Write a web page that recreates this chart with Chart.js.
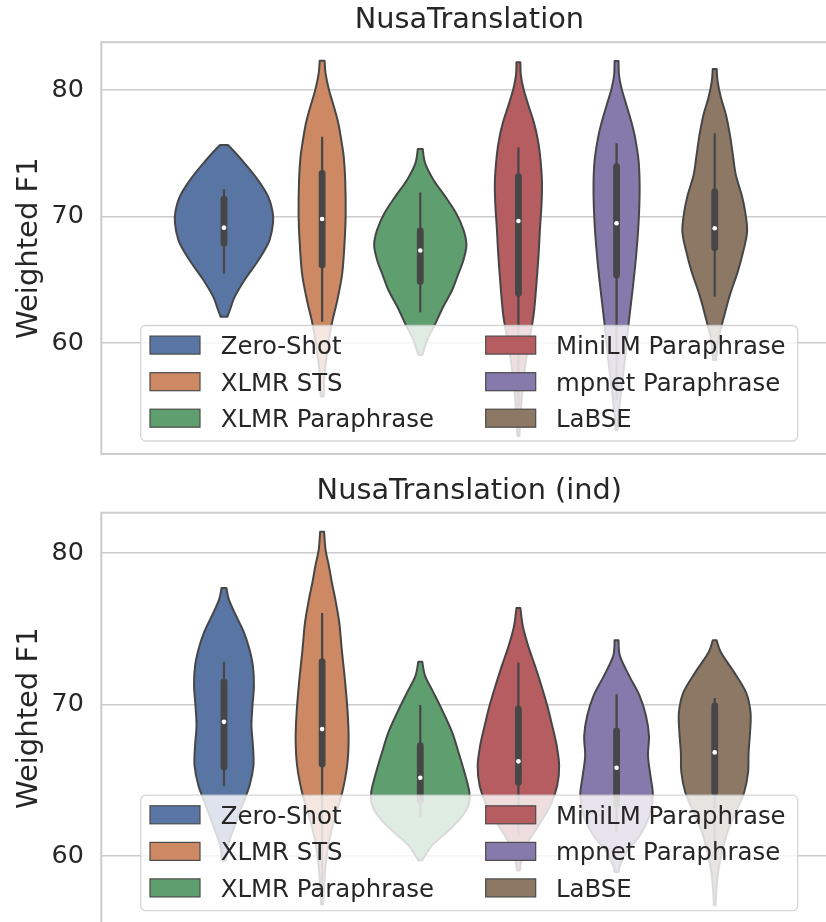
<!DOCTYPE html>
<html>
<head>
<meta charset="utf-8">
<script src="https://cdn.jsdelivr.net/npm/chart.js@4.4.1/dist/chart.umd.min.js"></script>
<style>
html, body { margin: 0; padding: 0; background: #ffffff; overflow: hidden; }
#wrap { position: relative; width: 826px; height: 922px; overflow: hidden; background: #fff; }
canvas { position: absolute; left: 0; }
</style>
</head>
<body>
<div id="wrap">
  <canvas id="c1" width="840" height="470" style="top:0px;width:840px;height:470px"></canvas>
  <canvas id="c2" width="840" height="456" style="top:470px;width:840px;height:456px"></canvas>
</div>
<script>
// ---------------- DATA ----------------
const models = ['Zero-Shot', 'XLMR STS', 'XLMR Paraphrase', 'MiniLM Paraphrase', 'mpnet Paraphrase', 'LaBSE'];
const yTicks = [60, 70, 80];
const yLabel = 'Weighted F1';
const titleTop = 'NusaTranslation';
const titleBottom = 'NusaTranslation (ind)';

// Panel 1: NusaTranslation — violin outline (value, relative density)
const nusaProfileY = [
  [75.66, 75.26, 74.21, 72.9, 71.58, 70.4, 69.5, 68.16, 67.1, 66.32, 65.0, 63.68, 62.63, 62.1],
  [82.31, 81.31, 80.0, 78.68, 77.37, 76.05, 74.74, 72.9, 70.27, 68.16, 65.53, 63.42, 61.6, 59.75, 57.63, 55.8],
  [75.34, 74.21, 72.9, 71.58, 70.27, 68.95, 67.76, 66.58, 65.53, 64.21, 62.9, 61.58, 60.26, 59.08],
  [82.18, 81.18, 80.13, 78.82, 77.5, 76.18, 74.87, 72.76, 70.92, 69.08, 66.97, 64.34, 62.24, 60.66, 59.08, 56.97, 54.87, 52.68],
  [82.29, 81.18, 80.13, 78.82, 77.5, 76.18, 74.34, 72.24, 69.61, 66.97, 64.34, 61.71, 59.08, 56.45, 54.34, 53.16],
  [81.66, 80.66, 79.34, 78.03, 76.45, 74.87, 73.29, 71.71, 70.4, 68.82, 67.24, 65.66, 63.82, 61.97, 60.39, 58.68]
];
const nusaProfileW = [
  [0.08, 0.18, 0.42, 0.69, 0.9, 0.99, 1.0, 0.93, 0.79, 0.66, 0.42, 0.22, 0.12, 0.07],
  [0.05, 0.07, 0.14, 0.24, 0.33, 0.39, 0.44, 0.47, 0.48, 0.46, 0.41, 0.31, 0.2, 0.12, 0.05, 0.03],
  [0.05, 0.1, 0.27, 0.51, 0.73, 0.88, 0.94, 0.88, 0.78, 0.65, 0.47, 0.31, 0.14, 0.04],
  [0.04, 0.05, 0.1, 0.2, 0.31, 0.39, 0.44, 0.48, 0.47, 0.44, 0.41, 0.36, 0.31, 0.24, 0.17, 0.1, 0.05, 0.02],
  [0.04, 0.05, 0.1, 0.2, 0.3, 0.38, 0.45, 0.47, 0.45, 0.4, 0.33, 0.25, 0.18, 0.1, 0.04, 0.02],
  [0.04, 0.06, 0.13, 0.23, 0.31, 0.37, 0.43, 0.55, 0.62, 0.66, 0.58, 0.47, 0.31, 0.18, 0.08, 0.03]
];
const nusaWhiskerLo = [65.5, 61.7, 62.45, 55.0, 55.5, 63.68];
const nusaQ1        = [67.9, 66.18, 64.87, 63.95, 65.4, 67.55];
const nusaMedian    = [69.13, 69.81, 67.32, 69.66, 69.48, 69.08];
const nusaQ3        = [71.37, 73.42, 68.87, 73.16, 73.95, 71.97];
const nusaWhiskerHi = [72.16, 76.31, 71.9, 75.45, 75.79, 76.58];

// Panel 2: NusaTranslation (ind)
const indProfileY = [
  [77.7, 76.93, 75.83, 74.74, 73.64, 72.54, 71.22, 69.91, 68.59, 67.28, 65.96, 64.64, 63.33, 62.01, 60.7, 59.71],
  [81.42, 80.22, 79.12, 78.03, 76.93, 75.39, 73.64, 71.45, 69.47, 67.72, 65.96, 64.21, 62.67, 61.13, 59.38, 56.8],
  [72.83, 71.88, 70.79, 69.47, 68.16, 66.84, 65.53, 64.21, 63.33, 62.45, 61.58, 60.7, 60.04, 59.71],
  [76.38, 75.17, 73.86, 72.54, 71.22, 69.91, 68.59, 67.28, 65.96, 64.64, 63.33, 62.01, 60.92, 59.82, 59.05],
  [74.25, 73.2, 71.88, 70.57, 69.25, 67.94, 66.62, 65.3, 63.99, 62.67, 61.36, 60.26, 59.38, 58.95],
  [74.25, 73.42, 72.11, 70.79, 69.47, 68.16, 66.84, 65.53, 64.21, 62.89, 61.58, 60.26, 58.95, 57.63, 56.75]
];
const indProfileW = [
  [0.05, 0.1, 0.25, 0.41, 0.52, 0.59, 0.61, 0.58, 0.56, 0.59, 0.6, 0.52, 0.37, 0.22, 0.08, 0.04],
  [0.04, 0.07, 0.14, 0.2, 0.27, 0.35, 0.4, 0.47, 0.52, 0.54, 0.51, 0.41, 0.27, 0.15, 0.07, 0.02],
  [0.04, 0.1, 0.27, 0.47, 0.65, 0.78, 0.9, 1.0, 0.98, 0.81, 0.54, 0.24, 0.1, 0.04],
  [0.04, 0.09, 0.2, 0.34, 0.47, 0.59, 0.69, 0.78, 0.83, 0.79, 0.65, 0.41, 0.2, 0.07, 0.03],
  [0.04, 0.07, 0.26, 0.47, 0.6, 0.66, 0.64, 0.69, 0.74, 0.67, 0.47, 0.2, 0.07, 0.04],
  [0.04, 0.13, 0.4, 0.64, 0.73, 0.72, 0.69, 0.68, 0.6, 0.43, 0.26, 0.15, 0.07, 0.03, 0.02]
];
const indWhiskerLo = [64.6, 57.5, 62.57, 61.36, 61.58, 60.48];
const indQ1        = [65.86, 66.07, 63.66, 64.87, 63.44, 64.21];
const indMedian    = [68.86, 68.38, 65.17, 66.25, 65.83, 66.84];
const indQ3        = [71.49, 72.83, 67.28, 69.69, 68.26, 69.91];
const indWhiskerHi = [72.83, 76.05, 69.97, 72.76, 70.68, 70.41];

// ---------------- STYLE ----------------
const fillColors = ['#5975a4', '#cc8963', '#5f9e6e', '#b55d60', '#857aab', '#8d7866'];
const gray = '#464646';
const textColor = '#262626';
const gridColor = '#cccccc';
const FONT = "'DejaVu Sans', 'Liberation Sans', sans-serif";

const nGroups = models.length;
const groupWidth = 0.8;
const slot = groupWidth / nGroups;
const halfSlot = slot / 2;
function slotCenter(i) { return -groupWidth / 2 + (i + 0.5) * slot; }

function spline(ctx, pts) {
  for (let k = 0; k < pts.length - 1; k++) {
    const p0 = pts[k - 1] || pts[k], p1 = pts[k], p2 = pts[k + 1], p3 = pts[k + 2] || pts[k + 1];
    const c1x = p1[0] + (p2[0] - p0[0]) / 6, c1y = p1[1] + (p2[1] - p0[1]) / 6;
    const c2x = p2[0] - (p3[0] - p1[0]) / 6, c2y = p2[1] - (p3[1] - p1[1]) / 6;
    ctx.bezierCurveTo(c1x, c1y, c2x, c2y, p2[0], p2[1]);
  }
}

function violinPlugin(p) {
  return {
    id: 'violins',
    beforeDatasetsDraw(chart) {
      const { ctx, scales: { x, y }, chartArea: ca } = chart;
      ctx.save();
      ctx.beginPath();
      ctx.rect(ca.left, ca.top, ca.right - ca.left, ca.bottom - ca.top);
      ctx.clip();
      models.forEach((m, i) => {
        const c = slotCenter(i);
        const px = x.getPixelForValue(c);
        const ys = p.profY[i], ws = p.profW[i];
        const right = ys.map((v, k) => [x.getPixelForValue(c + ws[k] * halfSlot), y.getPixelForValue(v)]);
        const left = ys.map((v, k) => [x.getPixelForValue(c - ws[k] * halfSlot), y.getPixelForValue(v)]).reverse();
        ctx.beginPath();
        ctx.moveTo(right[0][0], right[0][1]);
        spline(ctx, right);
        ctx.lineTo(left[0][0], left[0][1]);
        spline(ctx, left);
        ctx.closePath();
        ctx.fillStyle = fillColors[i];
        ctx.fill();
        ctx.lineJoin = 'round';
        ctx.lineWidth = 2;
        ctx.strokeStyle = gray;
        ctx.stroke();
        // whisker
        ctx.lineCap = 'butt';
        ctx.lineWidth = 2.2;
        ctx.beginPath();
        ctx.moveTo(px, y.getPixelForValue(p.wlo[i]));
        ctx.lineTo(px, y.getPixelForValue(p.whi[i]));
        ctx.stroke();
        // box
        ctx.lineCap = 'round';
        ctx.lineWidth = 6.8;
        ctx.beginPath();
        ctx.moveTo(px, y.getPixelForValue(p.q1[i]));
        ctx.lineTo(px, y.getPixelForValue(p.q3[i]));
        ctx.stroke();
      });
      ctx.restore();
      // spines
      ctx.save();
      ctx.strokeStyle = gridColor;
      ctx.lineWidth = 2;
      ctx.lineCap = 'square';
      ctx.beginPath();
      ctx.moveTo(ca.left, ca.bottom); ctx.lineTo(ca.left, ca.top); ctx.lineTo(ca.right, ca.top);
      ctx.lineTo(ca.right, ca.bottom); ctx.lineTo(ca.left, ca.bottom);
      ctx.stroke();
      ctx.restore();
    },
    afterDatasetsDraw(chart) {
      const { ctx, chartArea: ca } = chart;
      const bw = 657, bh = 115.5;
      const bx = ca.left + 39.4, by = ca.bottom - 13 - bh;
      ctx.save();
      ctx.beginPath();
      ctx.roundRect(bx, by, bw, bh, 5);
      ctx.fillStyle = 'rgba(255,255,255,0.8)';
      ctx.fill();
      ctx.lineWidth = 1.3;
      ctx.strokeStyle = 'rgba(204,204,204,0.8)';
      ctx.stroke();
      const rowC = [19.6, 56.2, 92.7];
      const colPatch = [9.3, 345];
      const colText = [80, 415.3];
      ctx.font = '24.4px ' + FONT;
      ctx.textBaseline = 'alphabetic';
      ctx.textAlign = 'left';
      models.forEach((m, i) => {
        const col = Math.floor(i / 3), row = i % 3;
        const cy = by + rowC[row];
        ctx.fillStyle = fillColors[i];
        ctx.fillRect(bx + colPatch[col], cy - 9, 50, 18);
        ctx.lineWidth = 1.2;
        ctx.strokeStyle = '#4a4a4a';
        ctx.strokeRect(bx + colPatch[col], cy - 9, 50, 18);
        ctx.fillStyle = textColor;
        ctx.fillText(m, bx + colText[col], cy + 8.9);
      });
      ctx.restore();
    }
  };
}

function makeChart(id, p) {
  return new Chart(document.getElementById(id), {
    type: 'scatter',
    data: {
      datasets: [{
        data: p.median.map((v, i) => ({ x: slotCenter(i), y: v })),
        pointRadius: 2.3,
        pointHoverRadius: 2.3,
        pointBackgroundColor: '#ffffff',
        pointBorderWidth: 0,
        showLine: false
      }]
    },
    options: {
      responsive: false,
      animation: false,
      events: [],
      devicePixelRatio: 1,
      layout: { padding: { left: 0, right: 2.6, top: 0, bottom: p.padBottom } },
      plugins: {
        legend: { display: false },
        tooltip: { enabled: false },
        title: { display: false }
      },
      scales: {
        x: {
          type: 'linear', min: -0.5, max: 0.5, position: 'top',
          ticks: { display: false },
          grid: { display: false, drawTicks: false },
          border: { display: false },
          afterFit: (s) => { s.paddingLeft = 0; s.paddingRight = 0; },
          title: {
            display: true,
            text: p.title,
            color: textColor,
            font: { family: FONT, size: 28.8, weight: 'normal', lineHeight: 1.2 },
            padding: { top: p.titlePadTop, bottom: p.titlePadBottom }
          }
        },
        y: {
          type: 'linear',
          min: p.yMin,
          max: p.yMax,
          afterFit: (s) => { s.width = 101.3; s.paddingTop = 0; s.paddingBottom = 0; },
          afterBuildTicks: (s) => { s.ticks = yTicks.map(v => ({ value: v })); },
          ticks: {
            stepSize: 10,
            includeBounds: false,
            color: textColor,
            font: { family: FONT, size: 25.4 },
            padding: 17.5
          },
          grid: { color: gridColor, lineWidth: 1.6, drawTicks: false },
          border: { display: false },
          title: {
            display: true,
            text: yLabel,
            color: textColor,
            font: { family: FONT, size: 29, lineHeight: 1.2 },
            padding: { top: 11.6, bottom: 0 }
          }
        }
      }
    },
    plugins: [violinPlugin(p)]
  });
}

makeChart('c1', {
  title: titleTop, yMin: 51.26, yMax: 83.766, padBottom: 16, titlePadTop: 3.7, titlePadBottom: 4.0,
  profY: nusaProfileY, profW: nusaProfileW, wlo: nusaWhiskerLo, q1: nusaQ1, median: nusaMedian, q3: nusaQ3, whi: nusaWhiskerHi
});
makeChart('c2', {
  title: titleBottom, yMin: 55.53, yMax: 82.67, padBottom: 0.7, titlePadTop: 4.1, titlePadBottom: 4.04,
  profY: indProfileY, profW: indProfileW, wlo: indWhiskerLo, q1: indQ1, median: indMedian, q3: indQ3, whi: indWhiskerHi
});
</script>
</body>
</html>
